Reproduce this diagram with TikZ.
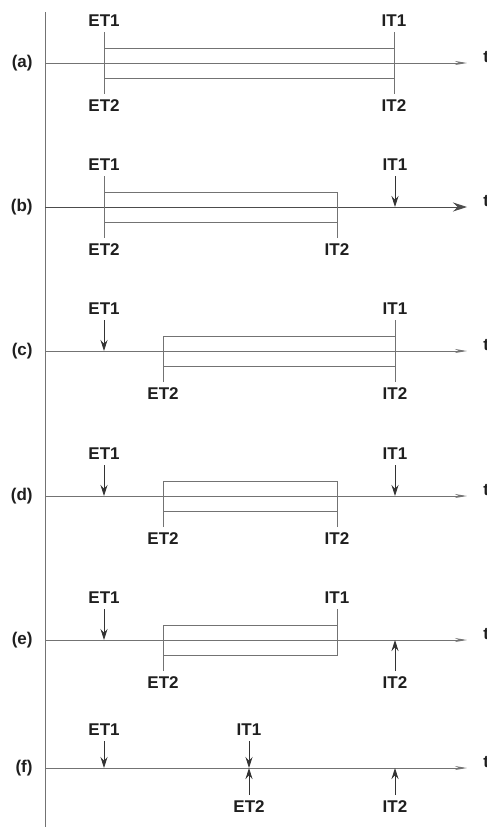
\documentclass[tikz,border=0pt]{standalone}
\usepackage{fontspec}
\setmainfont{Liberation Sans}
\usetikzlibrary{arrows,arrows.meta,positioning}

\begin{document}
\begin{tikzpicture}[x=1pt,y=-1pt,node distance=34pt,line width=0.9pt,color=black!55,
    >={Stealth[length=11pt,width=7pt]}]
  \tikzstyle{lbl}=[font=\fontsize{17}{17}\selectfont\bfseries,text=black!88,inner sep=2pt]
  \tikzstyle{axis}=[-{Stealth[length=12pt,width=4pt]}]
  \tikzstyle{tick}=[shorten <=3pt]
  \tikzstyle{evt}=[->,draw=black!80,shorten <=3pt]

  \useasboundingbox (0,0) rectangle (487,827);
  \coordinate (top) at (45,12);
  \coordinate (bot) at (45,827);
  \draw (top) -- (bot);

  % (a)
  \coordinate (a0) at (45,63);   \coordinate (aend) at (467,63);
  \coordinate (aE) at (104,63);  \coordinate (aI) at (394,63);
  \node [lbl,left=10pt of a0] (la) {(a)};
  \node [lbl,above right=-2pt and 14pt of aend] (ta) {t};
  \node [lbl,above=of aE] (aet1) {ET1};
  \node [lbl,below=of aE] (aet2) {ET2};
  \node [lbl,above=of aI] (ait1) {IT1};
  \node [lbl,below=of aI] (ait2) {IT2};
  \draw [axis] (a0) -- (aend);
  \draw ([yshift=15pt]aE) rectangle ([yshift=-15pt]aI);
  \draw [tick,shorten >=3pt] (aet1) -- (aet2);
  \draw [tick,shorten >=3pt] (ait1) -- (ait2);

  % (b)
  \coordinate (b0) at (45,207);  \coordinate (bend) at (467,207);
  \coordinate (bE) at (104,207); \coordinate (bI2) at (337,207);
  \coordinate (bI1) at (395,207);
  \node [lbl,left=10pt of b0] (lb) {(b)};
  \node [lbl,above right=-2pt and 14pt of bend] (tb) {t};
  \node [lbl,above=of bE] (bet1) {ET1};
  \node [lbl,below=of bE] (bet2) {ET2};
  \node [lbl,above=of bI1] (bit1) {IT1};
  \node [lbl,below=of bI2] (bit2) {IT2};
  \draw [-{Stealth[length=14pt,width=9pt]},draw=black!70] (b0) -- (bend);
  \draw ([yshift=15pt]bE) rectangle ([yshift=-15pt]bI2);
  \draw [tick,shorten >=3pt] (bet1) -- (bet2);
  \draw [tick] (bit2) -- ([yshift=15pt]bI2);
  \draw [evt] (bit1) -- (bI1);

  % (c)
  \coordinate (c0) at (45,351);  \coordinate (cend) at (467,351);
  \coordinate (cE1) at (104,351); \coordinate (cE2) at (163,351);
  \coordinate (cI) at (395,351);
  \node [lbl,left=10pt of c0] (lc) {(c)};
  \node [lbl,above right=-2pt and 14pt of cend] (tc) {t};
  \node [lbl,above=of cE1] (cet1) {ET1};
  \node [lbl,below=of cE2] (cet2) {ET2};
  \node [lbl,above=of cI] (cit1) {IT1};
  \node [lbl,below=of cI] (cit2) {IT2};
  \draw [axis] (c0) -- (cend);
  \draw ([yshift=15pt]cE2) rectangle ([yshift=-15pt]cI);
  \draw [evt] (cet1) -- (cE1);
  \draw [tick] (cet2) -- ([yshift=15pt]cE2);
  \draw [tick,shorten >=3pt] (cit1) -- (cit2);

  % (d)
  \coordinate (d0) at (45,496);  \coordinate (dend) at (467,496);
  \coordinate (dE1) at (104,496); \coordinate (dE2) at (163,496);
  \coordinate (dI2) at (337,496); \coordinate (dI1) at (395,496);
  \node [lbl,left=10pt of d0] (ld) {(d)};
  \node [lbl,above right=-2pt and 14pt of dend] (td) {t};
  \node [lbl,above=of dE1] (det1) {ET1};
  \node [lbl,below=of dE2] (det2) {ET2};
  \node [lbl,above=of dI1] (dit1) {IT1};
  \node [lbl,below=of dI2] (dit2) {IT2};
  \draw [axis] (d0) -- (dend);
  \draw ([yshift=15pt]dE2) rectangle ([yshift=-15pt]dI2);
  \draw [evt] (det1) -- (dE1);
  \draw [tick] (det2) -- ([yshift=15pt]dE2);
  \draw [tick] (dit2) -- ([yshift=15pt]dI2);
  \draw [evt] (dit1) -- (dI1);

  % (e)
  \coordinate (e0) at (45,640);  \coordinate (eend) at (467,640);
  \coordinate (eE1) at (104,640); \coordinate (eE2) at (163,640);
  \coordinate (eI1) at (337,640); \coordinate (eI2) at (395,640);
  \node [lbl,left=10pt of e0] (le) {(e)};
  \node [lbl,above right=-2pt and 14pt of eend] (te) {t};
  \node [lbl,above=of eE1] (eet1) {ET1};
  \node [lbl,below=of eE2] (eet2) {ET2};
  \node [lbl,above=of eI1] (eit1) {IT1};
  \node [lbl,below=of eI2] (eit2) {IT2};
  \draw [axis] (e0) -- (eend);
  \draw ([yshift=15pt]eE2) rectangle ([yshift=-15pt]eI1);
  \draw [evt] (eet1) -- (eE1);
  \draw [tick] (eet2) -- ([yshift=15pt]eE2);
  \draw [tick] (eit1) -- ([yshift=-15pt]eI1);
  \draw [evt] (eit2) -- (eI2);

  % (f)
  \coordinate (f0) at (45,768);  \coordinate (fend) at (467,768);
  \coordinate (fE1) at (104,768); \coordinate (fM) at (249,768);
  \coordinate (fI2) at (395,768);
  \node [lbl,left=10pt of f0] (lf) {(f)};
  \node [lbl,above right=-2pt and 14pt of fend] (tf) {t};
  \node [lbl,above=30pt of fE1] (fet1) {ET1};
  \node [lbl,above=30pt of fM] (fit1) {IT1};
  \node [lbl,below=30pt of fM] (fet2) {ET2};
  \node [lbl,below=30pt of fI2] (fit2) {IT2};
  \draw [axis] (f0) -- (fend);
  \draw [evt] (fet1) -- (fE1);
  \draw [evt] (fit1) -- (fM);
  \draw [evt] (fet2) -- (fM);
  \draw [evt] (fit2) -- (fI2);
\end{tikzpicture}
\end{document}
